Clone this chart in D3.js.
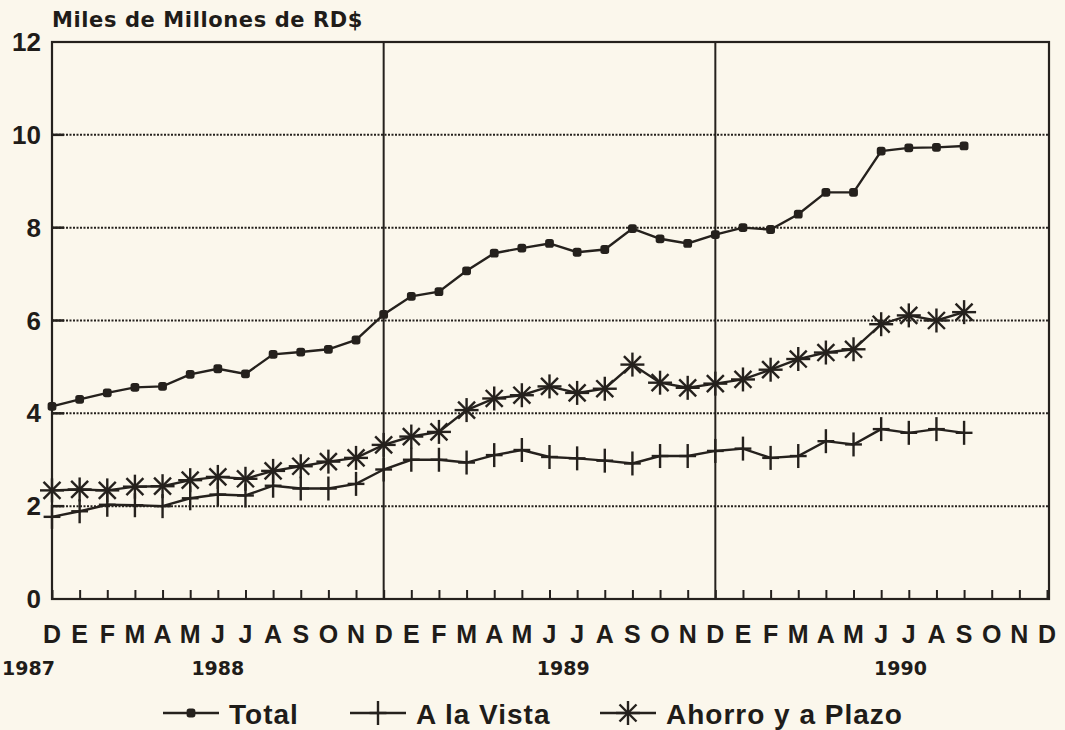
<!DOCTYPE html>
<html>
<head>
<meta charset="utf-8">
<script src="https://cdn.jsdelivr.net/npm/d3@7"></script>
<style>
  html, body { margin: 0; padding: 0; background: #fbf7ec; }
  svg { display: block; }
  text { font-family: 'Liberation Sans', Arial, sans-serif; font-weight: bold; fill: #1f1c19; }
</style>
</head>
<body>
<div id="main"></div>
<script>
const w = 1065, h = 730
const ink = '#25211d'

// dic 1987 .. dic 1990, one label per month
const months = ['D','E','F','M','A','M','J','J','A','S','O','N',
                'D','E','F','M','A','M','J','J','A','S','O','N',
                'D','E','F','M','A','M','J','J','A','S','O','N','D']
const years = ['1987', '1988', '1989', '1990']
const yearAt = [-0.85, 6, 18.5, 30.7]
const yTicks = [0, 2, 4, 6, 8, 10, 12]

// miles de millones de RD$, dic 1987 .. sep 1990
const total = [4.15, 4.30, 4.44, 4.56, 4.58, 4.84, 4.96, 4.85, 5.27, 5.32, 5.38, 5.58,
               6.13, 6.52, 6.62, 7.07, 7.45, 7.56, 7.66, 7.47, 7.53, 7.98, 7.76, 7.66,
               7.85, 8.00, 7.96, 8.29, 8.76, 8.76, 9.65, 9.72, 9.73, 9.76]
const vista = [1.77, 1.89, 2.03, 2.02, 2.00, 2.17, 2.25, 2.23, 2.44, 2.38, 2.38, 2.48,
               2.79, 3.00, 3.00, 2.94, 3.10, 3.21, 3.06, 3.03, 2.98, 2.92, 3.08, 3.08,
               3.19, 3.24, 3.04, 3.08, 3.40, 3.33, 3.66, 3.58, 3.66, 3.58]
const ahorro = [2.34, 2.36, 2.34, 2.42, 2.43, 2.56, 2.63, 2.59, 2.76, 2.86, 2.96, 3.04,
                3.32, 3.50, 3.60, 4.07, 4.32, 4.39, 4.58, 4.44, 4.53, 5.05, 4.66, 4.55,
                4.64, 4.73, 4.94, 5.17, 5.31, 5.38, 5.92, 6.11, 6.00, 6.18]

const pLeft = 52, pRight = 1049, pTop = 42, pBottom = 599

const svg = d3.select('#main').append('svg').attr('width', w).attr('height', h)

const x = d3.scaleLinear().domain([0, months.length - 1]).range([pLeft, pRight - 2])
const y = d3.scaleLinear().domain([0, 12]).range([pBottom, pTop])

// dotted grid
svg.append('g').selectAll('line')
    .data(yTicks.filter(d => d > 0 && d < 12))
    .enter().append('line')
    .attr('x1', pLeft).attr('x2', pRight)
    .attr('y1', d => y(d)).attr('y2', d => y(d))
    .attr('stroke', ink).attr('stroke-width', 2)
    .attr('stroke-dasharray', '2,1.5')

// short solid stubs on left axis
svg.append('g').selectAll('line')
    .data(yTicks.filter(d => d > 0 && d < 12))
    .enter().append('line')
    .attr('x1', pLeft).attr('x2', pLeft + 12)
    .attr('y1', d => y(d)).attr('y2', d => y(d))
    .attr('stroke', ink).attr('stroke-width', 2.5)

// year separators
svg.append('g').selectAll('line')
    .data([12, 24])
    .enter().append('line')
    .attr('x1', d => x(d)).attr('x2', d => x(d))
    .attr('y1', pTop).attr('y2', pBottom)
    .attr('stroke', ink).attr('stroke-width', 2)

// frame
svg.append('rect')
    .attr('x', pLeft).attr('y', pTop)
    .attr('width', pRight - pLeft).attr('height', pBottom - pTop)
    .attr('fill', 'none').attr('stroke', ink).attr('stroke-width', 2.2)

// month ticks (pointing up)
const xAxis = d3.axisTop(x).tickValues(d3.range(months.length)).tickSize(9).tickFormat('')
svg.append('g')
    .attr('transform', 'translate(0,' + pBottom + ')')
    .call(xAxis)
    .call(g => g.select('.domain').remove())
    .call(g => g.selectAll('line').attr('stroke', ink).attr('stroke-width', 2))

// month letters
svg.append('g').selectAll('text')
    .data(months)
    .enter().append('text')
    .attr('x', (d, i) => x(i))
    .attr('y', 643)
    .attr('text-anchor', 'middle')
    .style('font-size', '25px')
    .text(d => d)

svg.append('g').selectAll('text')
    .data(years)
    .enter().append('text')
    .attr('x', (d, i) => x(yearAt[i]))
    .attr('y', 675)
    .attr('text-anchor', 'middle')
    .style('font-family', "'DejaVu Sans', sans-serif")
    .style('font-size', '19px')
    .text(d => d)

// y labels
svg.append('g').selectAll('text')
    .data(yTicks)
    .enter().append('text')
    .attr('x', 41)
    .attr('y', d => y(d) + 9)
    .attr('text-anchor', 'end')
    .style('font-size', '26px')
    .text(d => d)

svg.append('text')
    .text('Miles de Millones de RD$')
    .attr('x', 52).attr('y', 27)
    .style('font-family', "'DejaVu Sans', sans-serif")
    .style('font-size', '21px')
    .style('letter-spacing', '0.6px')

// series
const line = d3.line().x((d, i) => x(i)).y(d => y(d))

function plus(g, size) {
    g.append('line').attr('x1', 0).attr('x2', 0).attr('y1', -size).attr('y2', size)
    g.append('line').attr('x1', -size * 0.7).attr('x2', size * 0.7).attr('y1', 0).attr('y2', 0)
}
function star(g, size) {
    [0, 45, 90, 135].forEach(a => {
        const r = a * Math.PI / 180
        g.append('line')
            .attr('x1', -size * Math.cos(r)).attr('x2', size * Math.cos(r))
            .attr('y1', -size * Math.sin(r)).attr('y2', size * Math.sin(r))
    })
}
function dot(g) {
    g.append('rect').attr('x', -3.2).attr('y', -3.2).attr('width', 6.4).attr('height', 6.4)
        .attr('rx', 1.5).attr('fill', ink)
}

const series = [
    { name: 'Total', values: total, mark: g => dot(g) },
    { name: 'A la Vista', values: vista, mark: g => plus(g, 12) },
    { name: 'Ahorro y a Plazo', values: ahorro, mark: g => star(g, 12) }
]

series.forEach(s => {
    svg.append('path')
        .datum(s.values)
        .attr('d', line)
        .attr('fill', 'none')
        .attr('stroke', ink)
        .attr('stroke-width', 2.4)
    svg.append('g').selectAll('g')
        .data(s.values)
        .enter().append('g')
        .attr('transform', (d, i) => 'translate(' + x(i) + ',' + y(d) + ')')
        .attr('stroke', ink).attr('stroke-width', 2.4)
        .each(function () { s.mark(d3.select(this)) })
})

// legend
const legendX = [163, 350, 600]
const legend = svg.append('g').attr('id', 'legend')
series.forEach((s, i) => {
    const g = legend.append('g').attr('transform', 'translate(' + legendX[i] + ',713)')
    g.append('line').attr('x1', 0).attr('x2', 56).attr('y1', 0).attr('y2', 0)
        .attr('stroke', ink).attr('stroke-width', 2.4)
    const m = g.append('g').attr('transform', 'translate(28,0)')
        .attr('stroke', ink).attr('stroke-width', 2.4)
    s.mark(m)
    g.append('text').attr('x', 66).attr('y', 11)
        .style('font-size', '28px')
        .style('letter-spacing', '1px')
        .text(s.name)
})
</script>
</body>
</html>
